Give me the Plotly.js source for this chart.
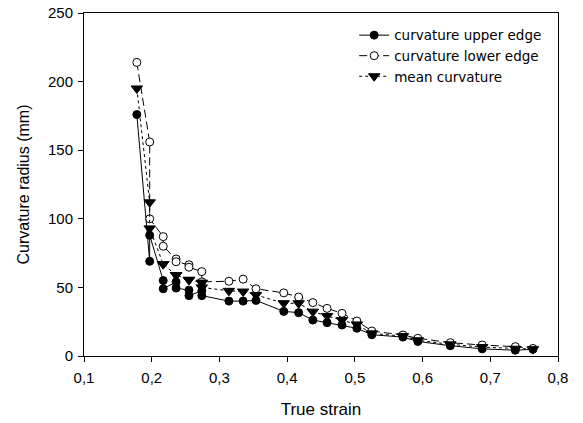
<!DOCTYPE html>
<html>
<head>
<meta charset="utf-8">
<script src="https://cdn.plot.ly/plotly-3.0.1.min.js"></script>
<style>html,body{margin:0;padding:0;background:#fff;}#chart{width:583px;height:423px;}</style>
</head>
<body>
<div id="chart"></div>
<script>
// True strain values (x) and curvature radius (mm) for each series
var strain = [0.178, 0.197, 0.197, 0.217, 0.217, 0.236, 0.236, 0.255, 0.255, 0.274, 0.274,
              0.314, 0.335, 0.354, 0.395, 0.417, 0.438, 0.459, 0.481, 0.503, 0.525,
              0.571, 0.593, 0.641, 0.688, 0.737, 0.763];
var upperEdge = [176, 69, 88, 55, 49, 54, 49.5, 48, 44, 47.5, 44,
                 40, 40, 40.5, 32.5, 31.6, 26.2, 24.3, 22.6, 20.2, 15.5,
                 13.8, 10.6, 7.5, 5.2, 4.2, 4.9];
var lowerEdge = [214, 156, 100, 87, 80, 70.7, 68.7, 66.5, 64.7, 61.5, 54,
                 54.5, 56, 49, 46, 43, 38.9, 34.7, 31.1, 25.5, 18.2,
                 15.3, 12.9, 9.7, 8, 6.8, 5.5];
var meanCurv = [195, 112, 93, 67, 67, 59, 59, 55.5, 55.5, 53.5, 50,
                47.5, 47, 44.5, 38.5, 38.4, 32.3, 29.2, 26.2, 23, 16.5,
                14.5, 11.5, 8.5, 6.5, 5.3, 5];
var seriesNames = ['curvature upper edge', 'curvature lower edge', 'mean curvature'];
var xTicks = [0.1, 0.2, 0.3, 0.4, 0.5, 0.6, 0.7, 0.8];
var yTicks = [0, 50, 100, 150, 200, 250];

var traces = [
  {x: strain, y: upperEdge, name: seriesNames[0], mode: 'lines+markers', type: 'scatter',
   line: {color: '#000', width: 1, dash: 'solid'},
   marker: {symbol: 'circle', size: 8, color: '#000', line: {color: '#000', width: 1}}},
  {x: strain, y: lowerEdge, name: seriesNames[1], mode: 'lines+markers', type: 'scatter',
   line: {color: '#000', width: 1, dash: '8px,4px'},
   marker: {symbol: 'circle', size: 8, color: '#fff', line: {color: '#000', width: 1}}},
  {x: strain, y: meanCurv, name: seriesNames[2], mode: 'lines+markers', type: 'scatter',
   line: {color: '#000', width: 1, dash: 'dot'},
   marker: {symbol: 'triangle-down', size: 10, color: '#000', line: {color: '#000', width: 1}}}
];

var layout = {
  width: 583, height: 423,
  margin: {l: 84, r: 25, t: 13, b: 67},
  paper_bgcolor: '#fff', plot_bgcolor: '#fff',
  separators: ',.',
  font: {family: 'Liberation Sans, Arial, sans-serif', size: 15, color: '#000'},
  showlegend: true,
  legend: {x: 0.57, y: 0.98, xanchor: 'left', yanchor: 'top', bgcolor: 'rgba(0,0,0,0)',
           font: {family: 'DejaVu Sans, sans-serif', size: 13.5, color: '#000'}, tracegroupgap: 0},
  xaxis: {range: [0.1, 0.8], tickvals: xTicks, tickformat: '.1f', ticks: 'outside', ticklen: 5,
          tickcolor: '#000', showline: true, linecolor: '#000', linewidth: 1, mirror: true,
          showgrid: false, zeroline: false, tickfont: {size: 15}, ticklabelstandoff: 3,
          title: {text: 'True strain', font: {size: 17}, standoff: 18}},
  yaxis: {range: [0, 250], tickvals: yTicks, ticks: 'outside', ticklen: 5,
          tickcolor: '#000', showline: true, linecolor: '#000', linewidth: 1, mirror: true,
          showgrid: false, zeroline: false, tickfont: {size: 15}, ticklabelstandoff: 2,
          title: {text: 'Curvature radius (mm)', font: {size: 16}, standoff: 14}}
};

Plotly.newPlot('chart', traces, layout, {staticPlot: true});
</script>
</body>
</html>
